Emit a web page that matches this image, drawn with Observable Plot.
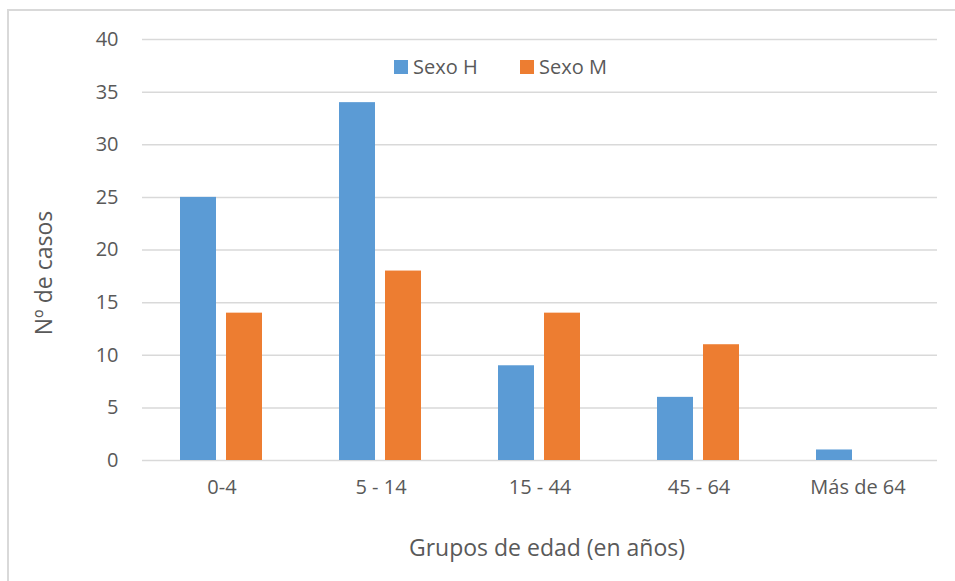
<!DOCTYPE html>
<html>
<head>
<meta charset="utf-8">
<script src="https://cdn.jsdelivr.net/npm/d3@7"></script>
<script src="https://cdn.jsdelivr.net/npm/@observablehq/plot@0.6"></script>
<style>
  html, body { margin: 0; padding: 0; background: #fff; }
  #wrap { position: relative; width: 955px; height: 581px; overflow: hidden; font-family: "Open Sans", sans-serif; color: #595959; }
  #frame { position: absolute; left: 7px; top: 9px; width: 980px; height: 600px; border: 2px solid #d9d9d9; box-sizing: border-box; }
  #chart { position: absolute; left: 0; top: 0; }
  .leg { position: absolute; top: 55px; font-size: 20px; line-height: 24px; display: flex; align-items: center; }
  .sw { width: 14px; height: 14px; margin-right: 5px; display: inline-block; }
  #xtitle { position: absolute; top: 532px; left: 0; width: 1094px; text-align: center; font-size: 23px; line-height: 30px; }
  #ytitle { position: absolute; left: 43px; top: 273px; font-size: 23px; line-height: 30px; transform: translate(-50%, -50%) rotate(-90deg); white-space: nowrap; }
</style>
</head>
<body>
<div id="wrap">
  <div id="frame"></div>
  <div id="chart"></div>
  <div class="leg" style="left:394px"><span class="sw" style="background:#5b9bd5"></span><span id="l1"></span></div>
  <div class="leg" style="left:520px"><span class="sw" style="background:#ed7d31"></span><span id="l2"></span></div>
  <div id="xtitle"></div>
  <div id="ytitle"></div>
</div>
<script>
const grupos = ["0-4", "5 - 14", "15 - 44", "45 - 64", "Más de 64"];
const series = ["Sexo H", "Sexo M"];
const valoresH = [25, 34, 9, 6, 1];
const valoresM = [14, 18, 14, 11, 0];
const yTicks = [0, 5, 10, 15, 20, 25, 30, 35, 40];
const colores = ["#5b9bd5", "#ed7d31"];
const xTitle = "Grupos de edad (en años)";
const yTitle = "Nº de casos";

const data = [];
grupos.forEach((g, i) => {
  data.push({grupo: g, sexo: series[0], valor: valoresH[i]});
  data.push({grupo: g, sexo: series[1], valor: valoresM[i]});
});

const chart = Plot.plot({
  width: 955,
  height: 581,
  marginLeft: 141,
  marginRight: 17,
  marginTop: 39,
  marginBottom: 121,
  style: {fontFamily: "Open Sans, sans-serif", fontSize: "20px", color: "#595959", background: "transparent", overflow: "visible"},
  fx: {domain: grupos, padding: 0, axis: "bottom", tickSize: 0, tickPadding: 19, label: null},
  x: {domain: series, axis: null, paddingInner: 0.217, paddingOuter: 0.82},
  y: {domain: [0, 40], ticks: yTicks, tickSize: 0, tickPadding: 24, label: null},
  color: {domain: series, range: colores},
  marks: [
    Plot.ruleY(yTicks, {stroke: "#d9d9d9", strokeWidth: 1.5}),
    Plot.barY(data, {fx: "grupo", x: "sexo", y: "valor", fill: "sexo"})
  ]
});
document.getElementById("chart").appendChild(chart);
document.getElementById("l1").textContent = series[0];
document.getElementById("l2").textContent = series[1];
document.getElementById("xtitle").textContent = xTitle;
document.getElementById("ytitle").textContent = yTitle;
</script>
</body>
</html>
